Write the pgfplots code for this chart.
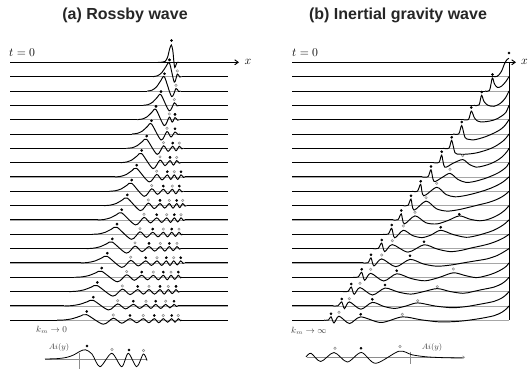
\documentclass[border=0pt]{standalone}
\usepackage{pgfplots}
\pgfplotsset{compat=1.18}
\usepackage{fontspec}
\newfontfamily\arialfont{Liberation Sans}
\usetikzlibrary{arrows.meta}
\pgfplotsset{
  wave/.style={black, line width=0.95pt, mark=none, smooth, tension=0.5},
  flat/.style={black, line width=0.95pt, mark=none},
  base/.style={black!35, line width=0.6pt, mark=none},
  bdot/.style={only marks, mark=*, mark size=1.15pt, black},
  gdot/.style={only marks, mark=o, mark size=1.2pt, mark options={draw=black!45, fill=white, line width=0.5pt}},
}
\begin{document}
\begin{tikzpicture}
\begin{axis}[at={(0pt,0pt)}, anchor=south west, scale only axis, width=528pt, height=374pt,
  xmin=0, xmax=528, ymin=0, ymax=374, y dir=reverse, axis lines=none, clip=false,
  unbounded coords=jump]

% ---------------- panel (a) ----------------
\addplot[base] coordinates {(10,76.6)(228,76.6) (nan,nan) (10,91)(228,91) (nan,nan) (10,105.3)(228,105.3) (nan,nan) (10,119.6)(228,119.6) (nan,nan) (10,134)(228,134) (nan,nan) (10,148.3)(228,148.3) (nan,nan) (10,162.6)(228,162.6) (nan,nan) (10,176.9)(228,176.9) (nan,nan) (10,191.3)(228,191.3) (nan,nan) (10,205.6)(228,205.6) (nan,nan) (10,219.9)(228,219.9) (nan,nan) (10,234.3)(228,234.3) (nan,nan) (10,248.6)(228,248.6) (nan,nan) (10,262.9)(228,262.9) (nan,nan) (10,277.3)(228,277.3) (nan,nan) (10,291.6)(228,291.6) (nan,nan) (10,305.9)(228,305.9) (nan,nan) (10,320.2)(228,320.2)};
\addplot[flat] coordinates {(10,76.6)(153.1,76.6) (nan,nan) (181.5,76.6)(228,76.6) (nan,nan)
 (10,91)(147.3,91) (nan,nan) (180.5,91)(228,91) (nan,nan)
 (10,105.3)(143.1,105.3) (nan,nan) (179,105.3)(228,105.3) (nan,nan)
 (10,119.6)(137.3,119.6) (nan,nan) (179.5,119.6)(228,119.6) (nan,nan)
 (10,134)(132,134) (nan,nan) (180,134)(228,134) (nan,nan)
 (10,148.3)(126.4,148.3) (nan,nan) (183.5,148.3)(228,148.3) (nan,nan)
 (10,162.6)(120.6,162.6) (nan,nan) (181,162.6)(228,162.6) (nan,nan)
 (10,176.9)(114.9,176.9) (nan,nan) (185,176.9)(228,176.9) (nan,nan)
 (10,191.3)(109.1,191.3) (nan,nan) (183.5,191.3)(228,191.3) (nan,nan)
 (10,205.6)(103.9,205.6) (nan,nan) (186.5,205.6)(228,205.6) (nan,nan)
 (10,219.9)(97.5,219.9) (nan,nan) (185,219.9)(228,219.9) (nan,nan)
 (10,234.3)(92,234.3) (nan,nan) (183,234.3)(228,234.3) (nan,nan)
 (10,248.6)(86.6,248.6) (nan,nan) (181,248.6)(228,248.6) (nan,nan)
 (10,262.9)(80.8,262.9) (nan,nan) (184.5,262.9)(228,262.9) (nan,nan)
 (10,277.3)(74.4,277.3) (nan,nan) (182,277.3)(228,277.3) (nan,nan)
 (10,291.6)(69.2,291.6) (nan,nan) (180,291.6)(228,291.6) (nan,nan)
 (10,305.9)(64.4,305.9) (nan,nan) (178,305.9)(228,305.9) (nan,nan)
 (10,320.2)(57.1,320.2) (nan,nan) (182,320.2)(228,320.2)};
\addplot[flat, -{Straight Barb[length=3.5pt,width=5pt]}] coordinates {(10,62.3)(239,62.3)};
\addplot[wave] coordinates {(158,62.3)(162,62.2)(165,61.5)(167.5,57.5)(169.5,49.5)(171.3,45)(172.8,50.5)(174,63)(174.8,67.5)(175.8,65.5)(177,62.5)(179,62.3)};
\addplot[wave] coordinates {(153.1,76.6)(157.5,75.8)(161.9,72.55)(166.0,66.5)(169.5,63.1)(174.3,82.1)(177.3,74.1)(179.8,77.0)(181.5,76.6)};
\addplot[wave] coordinates {(147.3,91)(152.0,90.2)(156.6,86.8)(160.9,80.5)(164.5,77.0)(171.6,96.5)(176,88.5)(178.5,91.3)(180.5,91)};
\addplot[wave] coordinates {(143.1,105.3)(147.9,104.7)(152.7,102.15)(157.2,97.4)(161,94.8)(169.2,110.8)(174.3,102.8)(177,105.8)(179,105.3)};
\addplot[wave] coordinates {(137.3,119.6)(142.3,119.0)(147.4,116.6)(152.0,112.1)(156,109.6)(164.2,125.6)(169.3,117.1)(172.2,122.1)(175,117.6)(177.5,120.1)(179.5,119.6)};
\addplot[wave] coordinates {(132,134)(137.25,133.4)(142.5,131.0)(147.4,126.5)(151.5,124.0)(161.1,140.0)(167,131.5)(171,137.0)(175,132.0)(178,134.5)(180,134)};
\addplot[wave] coordinates {(126.4,148.3)(131.9,147.8)(137.3,145.6)(142.4,141.55)(146.7,139.3)(157.1,154.3)(163.5,145.8)(168.1,151.3)(172.7,146.3)(176,150.8)(179.3,146.3)(181.8,148.8)(183.5,148.3)};
\addplot[wave] coordinates {(120.6,162.6)(126.3,162.1)(132.0,159.9)(137.2,155.85)(141.7,153.6)(153.0,168.6)(160,160.1)(165,165.6)(170,160.6)(173.4,165.1)(176.7,160.6)(179.2,163.1)(181,162.6)};
\addplot[wave] coordinates {(114.9,176.9)(120.7,176.4)(126.6,174.35)(132.1,170.5)(136.7,168.4)(149.1,181.9)(156.7,174.4)(162,179.9)(167.3,174.9)(170.8,179.4)(174.3,174.9)(177.7,179.4)(181,174.9)(183.4,177.4)(185,176.9)};
\addplot[wave] coordinates {(109.1,191.3)(115.2,190.8)(121.3,188.9)(126.9,185.3)(131.7,183.3)(144.1,196.3)(151.7,188.8)(157.5,194.3)(163.3,189.3)(167.8,193.8)(172.3,189.3)(175.8,193.8)(179.3,189.3)(181.8,191.8)(183.5,191.3)};
\addplot[wave] coordinates {(103.9,205.6)(110.2,205.15)(116.5,203.35)(122.3,200.0)(127.3,198.1)(140.3,210.6)(148.3,203.1)(154.2,208.6)(160,203.6)(164.7,208.1)(169.3,203.6)(173,208.1)(176.7,203.6)(179.7,207.6)(182.7,203.6)(185,206.1)(186.5,205.6)};
\addplot[wave] coordinates {(97.5,219.9)(104.0,219.5)(110.5,217.8)(116.6,214.65)(121.7,212.9)(135.5,224.9)(144,217.4)(150.4,222.9)(156.7,217.9)(161.7,222.4)(166.7,217.9)(170.5,222.4)(174.3,217.9)(177.7,221.9)(181,217.9)(183.3,220.4)(185,219.9)};
\addplot[wave] coordinates {(92,234.3)(98.8,233.9)(105.5,232.2)(111.7,229.05)(117,227.3)(131.3,239.3)(140,231.8)(146.4,237.3)(152.7,232.3)(158,236.8)(163.3,232.3)(167.5,236.8)(171.7,232.3)(175.4,236.3)(179,232.3)(181.3,234.8)(183,234.3)};
\addplot[wave] coordinates {(86.6,248.6)(93.5,248.2)(100.4,246.65)(106.9,243.7)(112.3,242.1)(126.4,253.1)(135,246.1)(142,251.6)(149,246.6)(154.7,251.1)(160.3,246.6)(164.8,251.1)(169.3,246.6)(173.2,250.6)(177,246.6)(179.4,249.1)(181,248.6)};
\addplot[wave] coordinates {(80.8,262.9)(87.9,262.5)(95.1,260.95)(101.7,258.0)(107.3,256.4)(121.8,267.4)(130.7,260.4)(138.2,265.9)(145.7,260.9)(151.4,265.4)(157,260.9)(161.7,265.4)(166.3,260.9)(170,265.4)(173.7,260.9)(177.2,264.9)(180.7,260.9)(183,263.4)(184.5,262.9)};
\addplot[wave] coordinates {(74.4,277.3)(81.7,276.9)(89.1,275.5)(95.9,272.8)(101.7,271.3)(117.2,281.8)(126.7,274.8)(134.2,280.3)(141.7,275.3)(147.5,279.8)(153.3,275.3)(158.3,279.8)(163.3,275.3)(167.2,279.8)(171,275.3)(174.7,279.3)(178.3,275.3)(180.6,277.8)(182,277.3)};
\addplot[wave] coordinates {(69.2,291.6)(76.8,291.2)(84.3,289.8)(91.4,287.1)(97.3,285.6)(112.8,296.1)(122.3,289.1)(130,294.6)(137.7,289.6)(143.4,294.1)(149,289.6)(154.5,294.1)(160,289.6)(164.2,294.1)(168.3,289.6)(172.2,293.6)(176,289.6)(178.3,292.1)(180,291.6)};
\addplot[wave] coordinates {(64.4,305.9)(72.2,305.6)(80,304.25)(87.2,301.8)(93.3,300.4)(108.4,309.9)(117.7,303.9)(125.5,308.9)(133.3,304.4)(139.7,308.4)(146,304.4)(150.9,308.4)(155.7,304.4)(160.7,308.4)(165.7,304.4)(169.9,307.9)(174,304.4)(176.3,306.4)(178,305.9)};
\addplot[wave] coordinates {(57.1,320.2)(65.0,319.9)(73.0,318.55)(80.4,316.1)(86.7,314.7)(103.2,324.2)(113.3,318.2)(121.7,323.2)(130,318.7)(136.7,322.7)(143.3,318.7)(148.8,322.7)(154.3,318.7)(158.8,322.7)(163.3,318.7)(167.5,322.2)(171.7,318.7)(175,322.2)(178.3,318.7)(180.6,320.7)(182,320.2)};
\addplot[bdot] coordinates {(171.5,40.5)(169.5,59.9)(164.5,73.8)(161,91.6)(156,106.4)(175,114.4)(151.5,120.8)(175,128.8)(146.7,136.1)(172.7,143.1)(141.7,150.4)(170,157.4)(136.7,165.2)(167.3,171.7)(181,171.7)(131.7,180.1)(163.3,186.1)(179.3,186.1)(127.3,194.9)(160,200.4)(176.7,200.4)(121.7,209.7)(156.7,214.7)(174.3,214.7)(117,224.1)(152.7,229.1)(171.7,229.1)(112.3,238.9)(149,243.4)(169.3,243.4)(107.3,253.2)(145.7,257.7)(166.3,257.7)(180.7,257.7)(101.7,268.1)(141.7,272.1)(163.3,272.1)(178.3,272.1)(97.3,282.4)(137.7,286.4)(160,286.4)(176,286.4)(93.3,297.2)(133.3,301.2)(155.7,301.2)(174,301.2)(86.7,311.5)(130,315.5)(154.3,315.5)(171.7,315.5)};
\addplot[gdot] coordinates {(177.3,70.9)(176,85.3)(174.3,99.6)(169.3,113.9)(167,128.3)(163.5,142.6)(179.3,143.1)(160,156.9)(176.7,157.4)(156.7,171.2)(174.3,171.7)(151.7,185.6)(172.3,186.1)(148.3,199.9)(169.3,200.4)(182.7,200.4)(144,214.2)(166.7,214.7)(181,214.7)(140,228.6)(163.3,229.1)(179,229.1)(135,242.9)(160.3,243.4)(177,243.4)(130.7,257.2)(157,257.7)(173.7,257.7)(126.7,271.6)(153.3,272.1)(171,272.1)(122.3,285.9)(149,286.4)(168.3,286.4)(117.7,300.7)(146,301.2)(165.7,301.2)(113.3,315)(143.3,315.5)(163.3,315.5)(178.3,315.5)};

% sketch (a)
\addplot[base, black!45] coordinates {(45,359)(147,359)};
\addplot[black!45, line width=0.9pt] coordinates {(79,353)(79,369)};
\addplot[wave, line width=0.8pt] coordinates {(45,359)(58,358.6)(67,357.3)(74,354.8)(80,351.3)(85.5,349.8)(92,354)(100,366.7)(111.7,353.3)(121.7,366.7)(128.3,353.3)(136.7,366.7)(143.3,354)(147,360.5)};
\addplot[bdot] coordinates {(87,346)(129,350)};
\addplot[gdot] coordinates {(112,349.5)(143.5,350.5)};

% ---------------- panel (b) ----------------
\addplot[base] coordinates {(292,76.6)(509,76.6) (nan,nan) (292,91)(509,91) (nan,nan) (292,105.3)(509,105.3) (nan,nan) (292,119.6)(509,119.6) (nan,nan) (292,134)(509,134) (nan,nan) (292,148.3)(509,148.3) (nan,nan) (292,162.6)(509,162.6) (nan,nan) (292,176.9)(509,176.9) (nan,nan) (292,191.3)(509,191.3) (nan,nan) (292,205.6)(509,205.6) (nan,nan) (292,219.9)(509,219.9) (nan,nan) (292,234.3)(509,234.3) (nan,nan) (292,248.6)(509,248.6) (nan,nan) (292,262.9)(509,262.9) (nan,nan) (292,277.3)(509,277.3) (nan,nan) (292,291.6)(509,291.6) (nan,nan) (292,305.9)(509,305.9) (nan,nan) (292,320.2)(509,320.2)};
\addplot[flat] coordinates {(292,76.6)(494,76.6) (nan,nan) (292,91)(485,91) (nan,nan) (292,105.3)(474,105.3) (nan,nan) (292,119.6)(463,119.6) (nan,nan) (292,134)(453,134) (nan,nan) (292,148.3)(443,148.3) (nan,nan) (292,162.6)(433,162.6) (nan,nan) (292,176.9)(422,176.9) (nan,nan) (292,191.3)(412,191.3) (nan,nan) (292,205.6)(403,205.6) (nan,nan) (292,219.9)(393,219.9) (nan,nan) (292,234.3)(383,234.3) (nan,nan) (292,248.6)(373,248.6) (nan,nan) (292,262.9)(363,262.9) (nan,nan) (292,277.3)(353,277.3) (nan,nan) (292,291.6)(343,291.6) (nan,nan) (292,305.9)(333,305.9) (nan,nan) (292,320.2)(324,320.2)};
\addplot[flat, -{Straight Barb[length=3.5pt,width=5pt]}] coordinates {(292,62.3)(516,62.3)};
\addplot[flat] coordinates {(509,62.3)(509,320.2)};
\addplot[wave] coordinates {(494,76.6)(497.3,76.3)(501.3,71.7)(504.7,63.3)(507.3,59.3)(509,58.3)};
\addplot[wave] coordinates {(485,91)(489.5,90.5)(492.3,78)(494.5,84)(497.5,87.5)(501.5,86.2)(505.5,82)(509,76.6)};
\addplot[wave] coordinates {(474,105.3)(479,105)(481.5,95.3)(484,101.5)(488,105.3)(494,106.3)(500.5,103.3)(505.5,97.8)(509,91)};
\addplot[wave] coordinates {(463,119.6)(468.5,119.4)(471.3,111.1)(474.5,118)(477.5,121)(481,122)(487,121.5)(493,120.3)(498,118.3)(502,115.8)(506,112.2)(509,105.3)};
\addplot[wave] coordinates {(453,134)(458.8,133.8)(461.7,125.5)(465,137.5)(469,139.4)(473,140)(479.5,138.6)(486,136.5)(492,134)(498,131)(502,128.3)(505.5,124.8)(509,119.6)};
\addplot[wave] coordinates {(443,148.3)(449,148.1)(451.7,140.3)(455,152.8)(459.5,154.1)(464,154.3)(470.5,153.8)(477,152.8)(483.5,151)(490,148.8)(495.5,146.2)(500,143.3)(503.5,140.6)(506.5,137.4)(509,134)};
\addplot[wave] coordinates {(433,162.6)(439,162.4)(441.7,155.1)(444.7,167.1)(453,163.3)(462.7,159.6)(469.5,164.5)(476,167.1)(482,166.3)(488,164.6)(493,162.6)(497.5,160.2)(501.5,157.4)(505,154)(507.5,151)(509,148.3)};
\addplot[wave] coordinates {(422,176.9)(428,176.7)(431,169.9)(434,181.4)(442,177.5)(450,173.4)(458,179.5)(466,182.4)(474,181.6)(482,179.4)(488,177.4)(494,174.9)(499,172.4)(503.5,169.4)(507,166.2)(509,162.6)};
\addplot[wave] coordinates {(412,191.3)(417.5,191.1)(420.7,184.3)(423.7,195.8)(436.7,187.3)(446,194.5)(455,196.8)(465,195.6)(476,193)(484,190.6)(491,188.1)(498,184.9)(503.5,181.6)(509,176.9)};
\addplot[wave] coordinates {(403,205.6)(408,205.4)(411,199.1)(414,210.1)(426,201.1)(436.5,208.8)(447,211.1)(458,209.8)(469,207.3)(479,204.8)(488,202.6)(496,199.8)(502,196.8)(506,194)(509,191.3)};
\addplot[wave] coordinates {(393,219.9)(398,219.7)(401.3,213.9)(404.3,223.9)(415,215.9)(426,222.8)(437,223.9)(448,220.5)(459.3,215.9)(470,219.2)(480,220.8)(488,219.4)(495,216.6)(501,213.2)(505.5,209.6)(509,205.6)};
\addplot[wave] coordinates {(383,234.3)(388.2,234.1)(391.7,228.3)(394.7,237.8)(403.3,230.3)(412.5,235.5)(422,237.6)(431,235)(440.7,230.3)(453,234.5)(466,237.3)(476,235.8)(485,233.3)(493,230.6)(500,227)(505,223.6)(509,219.9)};
\addplot[wave] coordinates {(373,248.6)(378.2,248.4)(381.7,243.1)(384.7,251.6)(392.3,244.6)(408,252.1)(424,244.8)(437,249)(450,251.6)(461,250.4)(472,247.8)(481,245.9)(490,243.6)(498,240.6)(504.5,237.4)(509,234.3)};
\addplot[wave] coordinates {(363,262.9)(368,262.7)(371,257.9)(374,265.9)(381.7,258.9)(395.8,266.7)(410,259.4)(423.5,264)(437,266.2)(451,265)(465,262.6)(476,260.8)(487,258.9)(497,255.6)(504,251.8)(509,248.6)};
\addplot[wave] coordinates {(353,277.3)(358,277.1)(361.7,272.3)(364.7,280.3)(370.7,273.3)(383.7,281)(396.7,273.8)(411,278.5)(425,280.8)(439,277.5)(453.3,272.8)(465,275.5)(476,277.6)(486,275.8)(495,272.8)(502,269.3)(506.5,266.1)(509,262.9)};
\addplot[wave] coordinates {(343,291.6)(348,291.4)(351.3,287.1)(354.2,294.3)(360,287.6)(372.5,295)(385,288.1)(398,292)(411,294.1)(424,291.5)(437.3,288.6)(450,291.5)(463,293.3)(472,291.8)(481,289.8)(494,287.1)(502,283.6)(506.5,280.1)(509,277.3)};
\addplot[wave] coordinates {(333,305.9)(338,305.8)(341.7,301.9)(344.5,308.6)(349.3,301.9)(360.8,309.2)(372.3,302.4)(384,306.5)(395,308.4)(406,306)(417.7,302.9)(435,306)(452,307.7)(466,306.6)(479,304.4)(494,301.4)(502,297.9)(506.5,294.4)(509,291.6)};
\addplot[wave] coordinates {(324,320.2)(328.5,320.0)(331,316.7)(334,322.9)(339,316.2)(349.5,323.5)(360.7,316.9)(381,322.5)(402.3,316.9)(421,319.8)(440,321.9)(460,321.2)(479,318.7)(494,315.7)(502,312.2)(506.5,308.7)(509,305.9)};
\addplot[bdot] coordinates {(509,53)(492.5,74.5)(481.7,92)(471.3,107.5)(461.7,122)(451.7,137.3)(441.7,151.7)(431,166.5)(420.7,181.3)(411,195.7)(401.3,210.5)(391.7,225)(381.7,240)(371,254.8)(361.7,269.3)(351.3,284)(341.7,299)(331,313.8)(459.3,214.3)(440.7,227.3)(424,241.7)(410,255.7)(396.7,270.7)(385,285)(372.3,299.3)(360.7,314.3)};
\addplot[gdot] coordinates {(462.7,155.7)(450,169.3)(436.7,183.3)(426,197.7)(415,212.3)(403.3,226)(392.3,240.7)(381.7,255)(370.7,269.3)(360,283.3)(349.3,298.7)(339,312.3)(453.3,269)(437.3,286.7)(417.7,300.7)(402.3,314.3)};

% sketch (b)
\addplot[base, black!45, -{Straight Barb[length=2pt,width=3pt]}] coordinates {(307,357.3)(465,357.3)};
\addplot[black!45, line width=1.2pt] coordinates {(410.7,351.7)(410.7,364)};
\addplot[wave, line width=0.8pt] coordinates {(306,357)(311,353.3)(320.7,361.5)(334,352.5)(347.3,362)(361.3,352.5)(375.7,363.3)(399,351.2)(412,354.8)(426,356.8)(444,357.7)(462,358.0)};
\addplot[bdot] coordinates {(361,348.3)};
\addplot[gdot] coordinates {(335,348.3)(400,346.5)};

% ---------------- text ----------------
\node[font=\arialfont\bfseries\fontsize{16}{16}\selectfont, text=black!85] at (axis cs:125,15) {(a) Rossby wave};
\node[font=\arialfont\bfseries\fontsize{16}{16}\selectfont, text=black!85] at (axis cs:398,15) {(b) Inertial gravity wave};
\node[anchor=west, inner sep=0pt, font=\fontsize{11.5}{11.5}\selectfont] at (axis cs:9,53) {$t=0$};
\node[anchor=west, inner sep=0pt, font=\fontsize{11.5}{11.5}\selectfont] at (axis cs:292,53) {$t=0$};
\node[inner sep=0pt, font=\fontsize{12}{12}\selectfont] at (axis cs:248,61.5) {$x$};
\node[inner sep=0pt, font=\fontsize{12}{12}\selectfont] at (axis cs:524.5,61.5) {$x$};
\node[anchor=west, inner sep=0pt, font=\fontsize{9}{9}\selectfont, text=black!75] at (axis cs:36,330) {$k_m\to 0$};
\node[anchor=west, inner sep=0pt, font=\fontsize{9}{9}\selectfont, text=black!75] at (axis cs:291,331) {$k_m\to\infty$};
\node[inner sep=0pt, font=\fontsize{8}{8}\selectfont, text=black!75] at (axis cs:59,348) {$Ai(y)$};
\node[inner sep=0pt, font=\fontsize{8}{8}\selectfont, text=black!75] at (axis cs:432,348) {$Ai(y)$};
\end{axis}
\pgfresetboundingbox
\path[use as bounding box] (0,0) rectangle (528pt,374pt);
\end{tikzpicture}
\end{document}
